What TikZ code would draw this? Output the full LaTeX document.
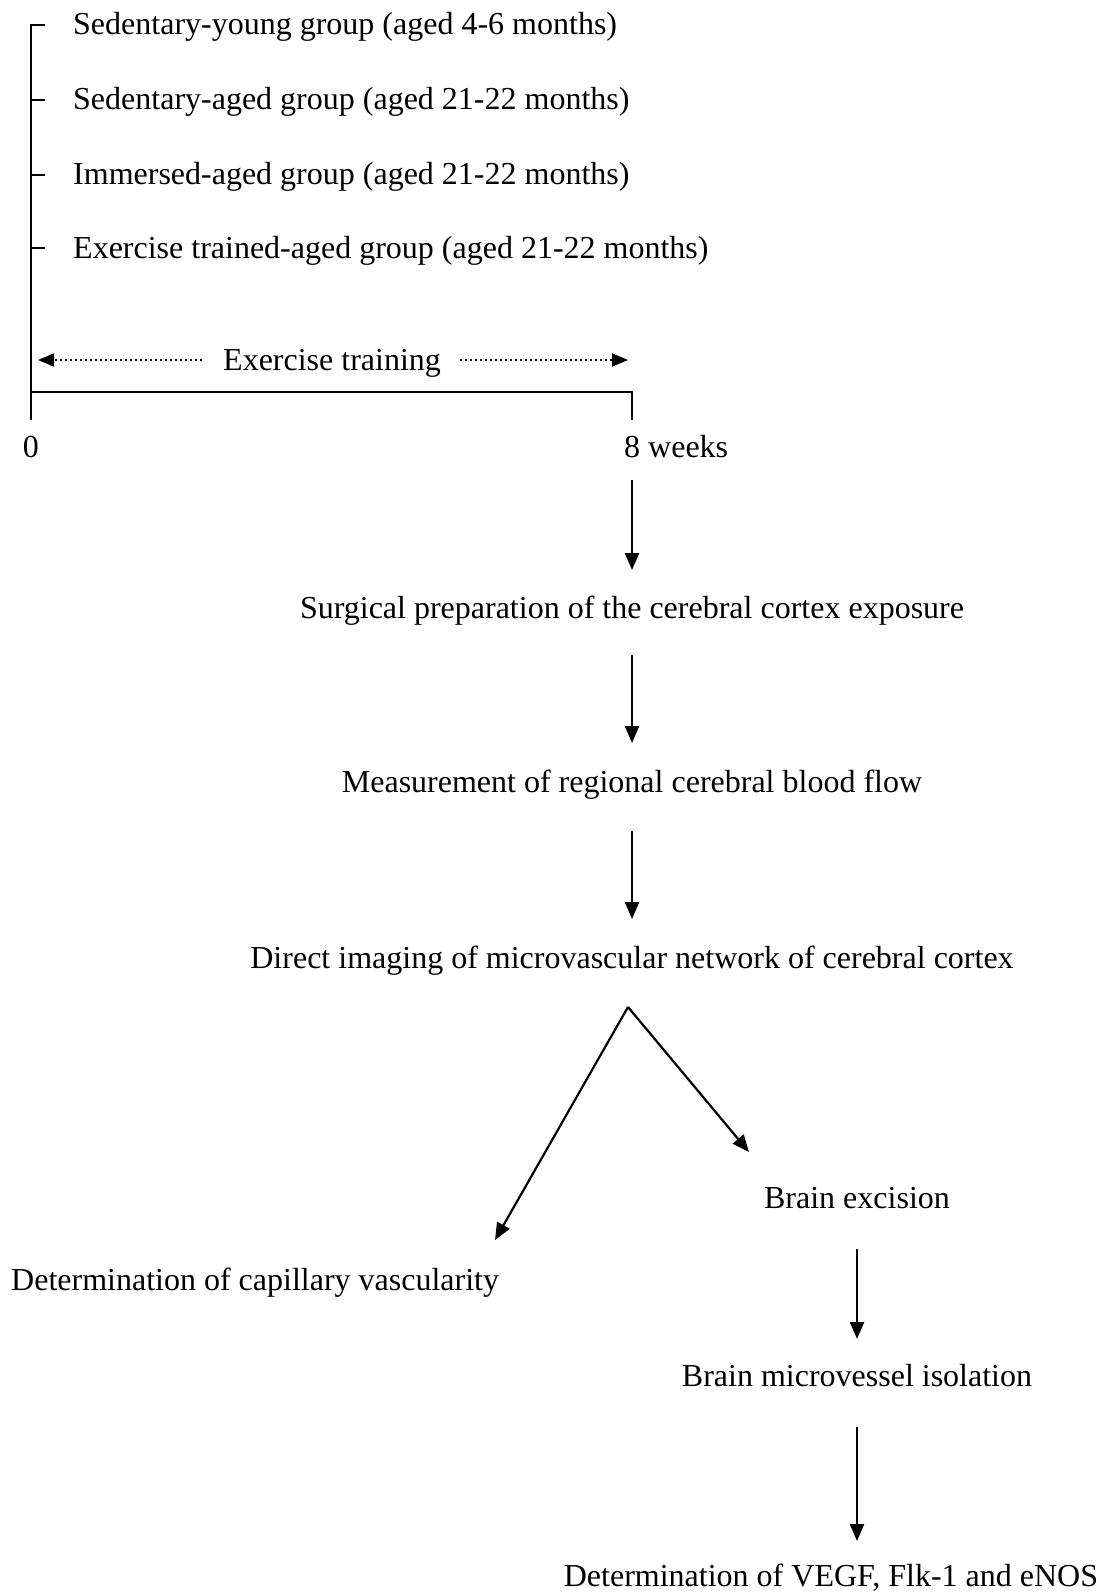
\documentclass[tikz,border=0pt]{standalone}
\usepackage{fontspec}
\setmainfont{Liberation Serif}
\usetikzlibrary{arrows.meta}
\begin{document}
\begin{tikzpicture}[x=1pt,y=-1pt,
  txt/.style={inner sep=0pt,font=\fontsize{32}{38}\selectfont},
  axis/.style={line width=2.4pt},
  arr/.style={line width=2.2pt,-{Triangle[length=17pt,width=14pt]}},
  dotarr/.style={line width=1.8pt,dash pattern=on 1.8pt off 3.2pt,-{Triangle[length=16pt,width=13pt]}}]
\useasboundingbox (0,0) rectangle (1109,1592);
% groups
\node[txt,anchor=base west] (g1) at (73,35) {Sedentary-young group (aged 4-6 months)};
\node[txt,anchor=base west] (g2) at (73,110) {Sedentary-aged group (aged 21-22 months)};
\node[txt,anchor=base west] (g3) at (73,184) {Immersed-aged group (aged 21-22 months)};
\node[txt,anchor=base west] (g4) at (73,258) {Exercise trained-aged group (aged 21-22 months)};
% timeline
\coordinate (top) at (31,25);
\coordinate (t0) at (31,420);
\coordinate (base0) at (31,392);
\coordinate (base8) at (632,392);
\coordinate (t8) at (632,420);
\draw[axis] (45,25) -- (top) -- (t0);
\draw[axis] (31,100) -- (45,100);
\draw[axis] (31,175) -- (45,175);
\draw[axis] (31,248) -- (45,248);
\draw[axis] (base0) -- (base8) -- (t8);
\node[txt,anchor=base] (zero) at (31,457) {0};
\node[txt,anchor=base west] (w8) at (624,457) {8 weeks};
% exercise training
\node[txt,anchor=base west] (ex) at (223,370) {Exercise training};
\coordinate (exl) at (38,360);
\coordinate (exr) at (628,360);
\draw[dotarr] (202,360) -- (exl);
\draw[dotarr] (460,360) -- (exr);
% flow
\node[txt,anchor=base] (s1) at (632,618) {Surgical preparation of the cerebral cortex exposure};
\node[txt,anchor=base] (s2) at (632,792) {Measurement of regional cerebral blood flow};
\node[txt,anchor=base] (s3) at (632,968) {Direct imaging of microvascular network of cerebral cortex};
\node[txt,anchor=base] (s4) at (857,1208) {Brain excision};
\node[txt,anchor=base west] (s5) at (11,1290) {Determination of capillary vascularity};
\node[txt,anchor=base] (s6) at (857,1386) {Brain microvessel isolation};
\node[txt,anchor=base] (s7) at (831,1586) {Determination of VEGF, Flk-1 and eNOS};
\coordinate (a0s) at (632,480);
\draw[arr] (a0s) -- ([yshift=48pt]s1.base);
\draw[arr] ([yshift=-37pt]s1.base) -- ([yshift=49pt]s2.base);
\draw[arr] ([yshift=-39pt]s2.base) -- ([yshift=49pt]s3.base);
\coordinate (apex) at (628,1007);
\coordinate (leftend) at (495,1240);
\coordinate (rightend) at (749,1152);
\draw[arr] (apex) -- (leftend);
\draw[arr] (apex) -- (rightend);
\draw[arr] ([yshift=-41pt]s4.base) -- ([yshift=47pt]s6.base);
\draw[arr] ([yshift=-41pt]s6.base) -- ([yshift=45pt]s6.base |- s7.base);
\end{tikzpicture}
\end{document}
